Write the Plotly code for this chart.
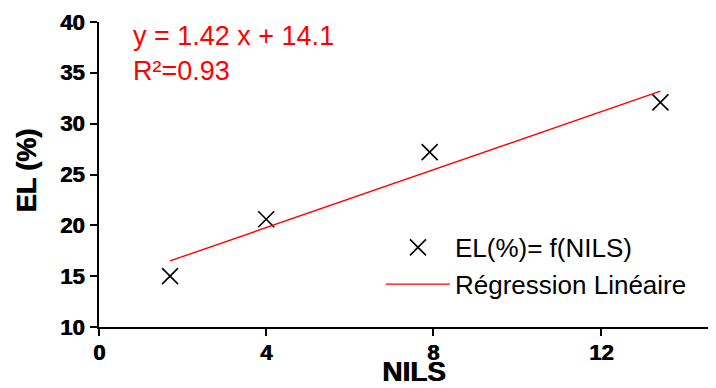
import plotly.graph_objects as go

# Data
nils = [1.70, 4.00, 7.91, 13.43]
el = [15.0, 20.6, 27.2, 32.1]
fit_x = [1.70, 13.43]
fit_y = [16.5, 33.2]
x_ticks = [0, 4, 8, 12]
x_minor_ticks = [2, 6, 10, 14]
y_ticks = [10, 15, 20, 25, 30, 35, 40]
y_minor_ticks = [12.5, 17.5, 22.5, 27.5, 32.5, 37.5]
x_range = [0, 14.76]
y_range = [10, 40]
equation = "y = 1.42 x + 14.1<br>R²=0.93"
x_title = "NILS"
y_title = "EL (%)"

FONT = "Liberation Sans"
HEAVY = "0.7px 0 0 #000"
bold_font = lambda s: dict(family=FONT, size=s, color="black", weight="bold", shadow=HEAVY)

fig = go.Figure()
fig.add_trace(go.Scatter(
    x=nils, y=el, mode="markers", name="EL(%)= f(NILS)",
    marker=dict(symbol="x-thin", size=16, color="black",
                line=dict(width=1.6, color="black")),
))
fig.add_trace(go.Scatter(
    x=fit_x, y=fit_y, mode="lines", name="Régression Linéaire",
    line=dict(color="#ff0000", width=1.4),
))

fig.update_layout(
    xaxis=dict(
        range=x_range, tickmode="array", tickvals=x_ticks, showticklabels=False,
        showline=True, linecolor="black", linewidth=2,
        ticks="outside", tickcolor="black", tickwidth=2, ticklen=7,
        showgrid=False, zeroline=False,
    ),
    yaxis=dict(
        range=y_range, tickmode="array", tickvals=y_ticks, showticklabels=False,
        showline=True, linecolor="black", linewidth=2,
        ticks="outside", tickcolor="black", tickwidth=2, ticklen=7,
        showgrid=False, zeroline=False,
    ),
    # minor ticks on overlaid axes
    xaxis2=dict(
        overlaying="x", anchor="y", side="bottom", range=x_range,
        tickmode="array", tickvals=x_minor_ticks, showticklabels=False,
        ticks="outside", tickcolor="black", tickwidth=1.5, ticklen=5,
        showline=False, showgrid=False, zeroline=False,
    ),
    yaxis2=dict(
        overlaying="y", anchor="x", side="left", range=y_range,
        tickmode="array", tickvals=y_minor_ticks, showticklabels=False,
        ticks="outside", tickcolor="black", tickwidth=1.5, ticklen=5,
        showline=False, showgrid=False, zeroline=False,
    ),
)

# bold tick labels, placed at the axis tick values
for v in x_ticks:
    fig.add_annotation(text=str(v), xref="x", x=v, yref="paper", y=0, yshift=-11,
                       xanchor="center", yanchor="top", showarrow=False, font=bold_font(22))
for v in y_ticks:
    fig.add_annotation(text=str(v), xref="paper", x=0, xshift=-13, yref="y", y=v,
                       xanchor="right", yanchor="middle", showarrow=False, font=bold_font(22))

# axis titles
fig.add_annotation(
    text=x_title, xref="paper", yref="paper", x=0.51, y=-0.09,
    xanchor="center", yanchor="top", showarrow=False, font=bold_font(28),
)
fig.add_annotation(
    text=y_title, xref="paper", yref="paper", x=0, xshift=-72, y=0.513,
    xanchor="center", yanchor="middle", textangle=-90, showarrow=False, font=bold_font(27),
)

fig.add_annotation(
    text=equation, xref="paper", yref="paper", x=0.052, y=1.01,
    xanchor="left", yanchor="top", showarrow=False, align="left",
    font=dict(family=FONT, size=27, color="#ff0000"),
)

# page body has an 8px margin: figure is 708x380 placed at (8,8)
fig.update_layout(
    width=708, height=380,
    margin=dict(l=91, r=0, t=14, b=61, autoexpand=False),
    paper_bgcolor="white", plot_bgcolor="white",
    showlegend=True,
    legend=dict(
        x=0.457, y=0.338, xanchor="left", yanchor="top",
        bgcolor="rgba(0,0,0,0)", borderwidth=0,
        font=dict(family=FONT, size=26, color="black"),
        tracegroupgap=0, itemwidth=64,
    ),
)

fig.write_html("out.html")
